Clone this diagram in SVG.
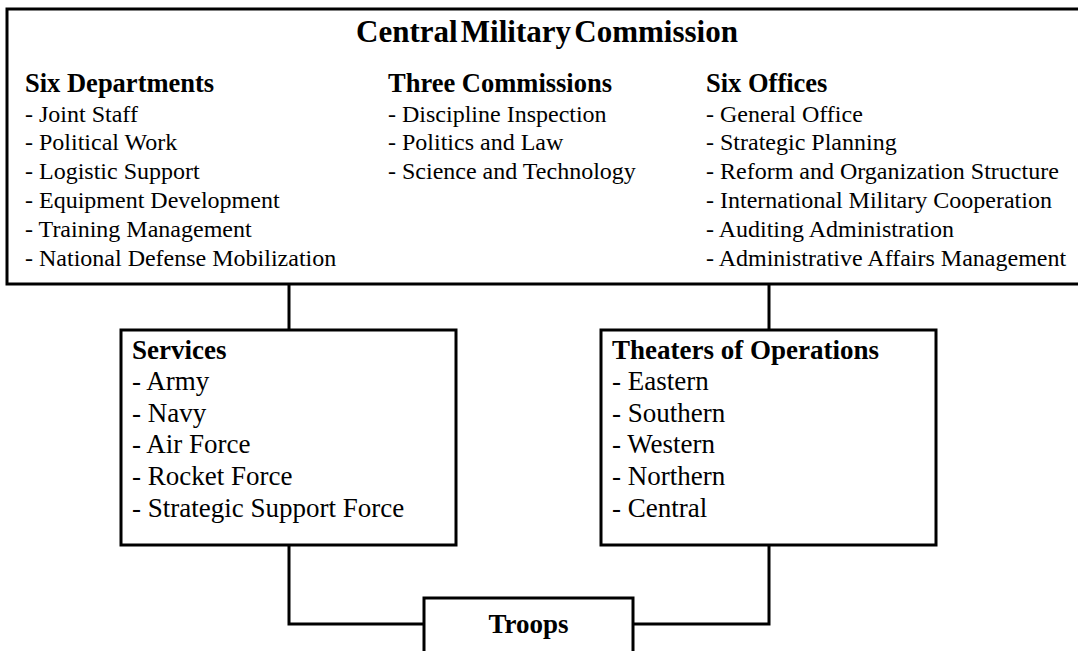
<svg xmlns="http://www.w3.org/2000/svg" width="1078" height="651" viewBox="0 0 1078 651">
  <style>
    .box { fill: #ffffff; stroke: #000000; stroke-width: 3; }
    .wire { fill: none; stroke: #000000; stroke-width: 3; }
    .title { font-family: "Liberation Serif", "Times New Roman", serif; font-weight: bold; font-size: 31px; word-spacing: -4.5px; fill: #000; }
    .head { font-family: "Liberation Serif", "Times New Roman", serif; font-weight: bold; font-size: 26.5px; fill: #000; }
    .item { font-family: "Liberation Serif", "Times New Roman", serif; font-size: 24px; fill: #000; }
    .head2 { font-family: "Liberation Serif", "Times New Roman", serif; font-weight: bold; font-size: 27px; fill: #000; }
    .item2 { font-family: "Liberation Serif", "Times New Roman", serif; font-size: 27px; fill: #000; }
  </style>
  <rect x="0" y="0" width="1078" height="651" fill="#ffffff"/>

  <!-- connectors -->
  <g id="connectors">
    <line class="wire" x1="289" y1="284" x2="289" y2="330"/>
    <line class="wire" x1="769" y1="284" x2="769" y2="330"/>
    <polyline class="wire" points="289,545 289,624 424,624"/>
    <polyline class="wire" points="769,545 769,624 633,624"/>
  </g>

  <!-- top-level commission -->
  <g id="cmc">
    <rect class="box" x="7" y="9" width="1090" height="275"/>
    <text class="title" x="356" y="42">Central Military Commission</text>
    <text class="head" x="25" y="92">Six Departments</text>
    <text class="item" x="25" y="121.5">- Joint Staff</text>
    <text class="item" x="25" y="150.3">- Political Work</text>
    <text class="item" x="25" y="179.1">- Logistic Support</text>
    <text class="item" x="25" y="207.9">- Equipment Development</text>
    <text class="item" x="25" y="236.7">- Training Management</text>
    <text class="item" x="25" y="265.5">- National Defense Mobilization</text>

    <text class="head" x="388" y="92">Three Commissions</text>
    <text class="item" x="388" y="121.5">- Discipline Inspection</text>
    <text class="item" x="388" y="150.3">- Politics and Law</text>
    <text class="item" x="388" y="179.1">- Science and Technology</text>

    <text class="head" x="706" y="92">Six Offices</text>
    <text class="item" x="706" y="121.5">- General Office</text>
    <text class="item" x="706" y="150.3">- Strategic Planning</text>
    <text class="item" x="706" y="179.1">- Reform and Organization Structure</text>
    <text class="item" x="706" y="207.9">- International Military Cooperation</text>
    <text class="item" x="706" y="236.7">- Auditing Administration</text>
    <text class="item" x="706" y="265.5">- Administrative Affairs Management</text>
  </g>

  <!-- services -->
  <g id="services">
    <rect class="box" x="121" y="330" width="335" height="215"/>
    <text class="head2" x="132" y="358.5">Services</text>
    <text class="item2" x="132" y="390">- Army</text>
    <text class="item2" x="132" y="421.7">- Navy</text>
    <text class="item2" x="132" y="453.4">- Air Force</text>
    <text class="item2" x="132" y="485">- Rocket Force</text>
    <text class="item2" x="132" y="516.7">- Strategic Support Force</text>
  </g>

  <!-- theaters -->
  <g id="theaters">
    <rect class="box" x="601" y="330" width="335" height="215"/>
    <text class="head2" x="612" y="358.5">Theaters of Operations</text>
    <text class="item2" x="612" y="390">- Eastern</text>
    <text class="item2" x="612" y="421.7">- Southern</text>
    <text class="item2" x="612" y="453.4">- Western</text>
    <text class="item2" x="612" y="485">- Northern</text>
    <text class="item2" x="612" y="516.7">- Central</text>
  </g>

  <!-- troops -->
  <g id="troops">
    <rect class="box" x="424" y="598" width="209" height="70"/>
    <text class="head2" x="528.5" y="633" text-anchor="middle" font-size="25.5">Troops</text>
  </g>
</svg>
